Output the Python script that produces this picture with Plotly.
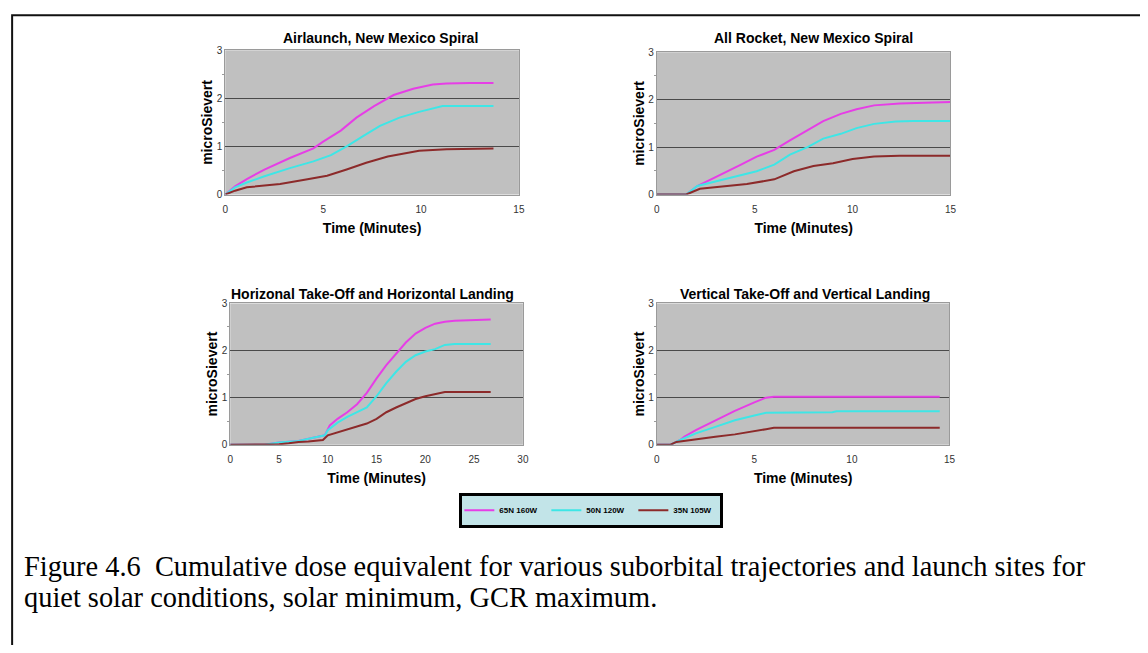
import plotly.graph_objects as go

# The page body has an 8px margin, so the figure is sized to fit the window exactly.
PAGE_OFF = 8
W, H = 1148 - 2 * PAGE_OFF, 653 - 2 * PAGE_OFF

# ---------------- data ----------------
series_names = ["65N 160W", "50N 120W", "35N 105W"]
series_colors = ["#e63ee6", "#3ee6e6", "#8c2a2a"]

panel_titles = ["Airlaunch, New Mexico Spiral", "All Rocket, New Mexico Spiral",
                "Horizonal Take-Off and Horizontal Landing", "Vertical Take-Off and Vertical Landing"]
x_title = "Time (Minutes)"
y_title = "microSievert"

# Airlaunch
air_t_65 = [0, 0.5, 1.1, 2.0, 3.3, 4.5, 5.0, 5.9, 6.7, 7.6, 8.6, 9.6, 10.6, 11.3, 12.5, 13.7]
air_d_65 = [0, 0.17, 0.32, 0.52, 0.76, 0.96, 1.1, 1.33, 1.6, 1.84, 2.07, 2.2, 2.29, 2.31, 2.32, 2.32]
air_t_50 = [0, 0.5, 1.1, 2.0, 3.3, 4.5, 5.4, 6.2, 7.1, 7.9, 8.9, 9.9, 11.1, 13.7]
air_d_50 = [0, 0.15, 0.25, 0.38, 0.55, 0.69, 0.82, 1.0, 1.23, 1.43, 1.6, 1.72, 1.84, 1.84]
air_t_35 = [0, 0.5, 1.1, 2.0, 2.8, 4.2, 5.2, 6.2, 7.2, 8.3, 9.3, 9.9, 11.3, 13.7]
air_d_35 = [0, 0.08, 0.15, 0.18, 0.22, 0.32, 0.39, 0.52, 0.66, 0.79, 0.87, 0.91, 0.94, 0.96]

# All Rocket
rkt_t_65 = [0, 1.5, 2.07, 3.1, 4.3, 5.1, 6.0, 6.8, 7.7, 8.5, 9.4, 10.2, 11.1, 12.4, 15]
rkt_d_65 = [0, 0, 0.18, 0.38, 0.63, 0.8, 0.94, 1.14, 1.35, 1.55, 1.7, 1.8, 1.88, 1.92, 1.95]
rkt_t_50 = [0, 1.5, 2.07, 3.1, 4.3, 5.1, 6.0, 6.8, 7.7, 8.5, 9.4, 10.2, 11.1, 12.2, 13.1, 15]
rkt_d_50 = [0, 0, 0.18, 0.29, 0.42, 0.49, 0.63, 0.84, 1.0, 1.18, 1.28, 1.4, 1.49, 1.54, 1.55, 1.55]
rkt_t_35 = [0, 1.5, 2.2, 3.4, 4.6, 6.0, 7.0, 8.0, 9.0, 10.0, 11.1, 12.4, 15]
rkt_d_35 = [0, 0, 0.12, 0.17, 0.22, 0.32, 0.49, 0.6, 0.66, 0.75, 0.8, 0.82, 0.82]

# Horizontal take-off / landing
htl_t_65 = [0, 3.5, 5, 7, 8.5, 9.7, 10.2, 11, 12, 13, 14, 15, 16, 17, 18, 19, 20, 21, 22, 23, 25, 26.7]
htl_d_65 = [0, 0, 0.05, 0.08, 0.15, 0.2, 0.41, 0.55, 0.69, 0.86, 1.1, 1.41, 1.69, 1.93, 2.17, 2.36, 2.48, 2.57, 2.61, 2.63, 2.64, 2.66]
htl_t_50 = [0, 3.5, 5, 7, 8.5, 9.7, 10, 11, 12, 13, 14, 15, 16, 17, 18, 19, 20, 21, 22, 23, 26.7]
htl_d_50 = [0, 0, 0.05, 0.08, 0.15, 0.2, 0.31, 0.47, 0.59, 0.69, 0.79, 1.03, 1.31, 1.55, 1.76, 1.9, 1.98, 2.03, 2.12, 2.14, 2.14]
htl_t_35 = [0, 4, 5, 6, 7, 8, 9.5, 10, 11, 12, 13, 14, 15, 16, 17, 18, 19, 20, 21, 22, 23, 26.7]
htl_d_35 = [0, 0, 0.01, 0.03, 0.06, 0.07, 0.1, 0.2, 0.26, 0.33, 0.39, 0.45, 0.55, 0.69, 0.79, 0.88, 0.97, 1.03, 1.08, 1.12, 1.12, 1.12]

# Vertical take-off / landing
vtl_t_65 = [0, 0.7, 1.2, 1.4, 2, 3, 4, 5, 5.6, 6, 14.5]
vtl_d_65 = [0, 0, 0.1, 0.17, 0.31, 0.52, 0.72, 0.9, 1.0, 1.02, 1.02]
vtl_t_50 = [0, 0.7, 1.2, 2, 3, 4, 5, 5.6, 9, 9.2, 14.5]
vtl_d_50 = [0, 0, 0.1, 0.24, 0.38, 0.52, 0.62, 0.68, 0.69, 0.71, 0.71]
vtl_t_35 = [0, 0.7, 1, 2, 3, 4, 5, 5.6, 6, 14.5]
vtl_d_35 = [0, 0, 0.06, 0.12, 0.17, 0.22, 0.28, 0.33, 0.36, 0.36]

x_ranges = [[0, 15], [0, 15], [0, 30], [0, 15]]
y_range = [0, 3]

caption_lines = ["Figure 4.6  Cumulative dose equivalent for various suborbital trajectories and launch sites for",
                 "quiet solar conditions, solar minimum, GCR maximum."]

panels = [
    [(air_t_65, air_d_65), (air_t_50, air_d_50), (air_t_35, air_d_35)],
    [(rkt_t_65, rkt_d_65), (rkt_t_50, rkt_d_50), (rkt_t_35, rkt_d_35)],
    [(htl_t_65, htl_d_65), (htl_t_50, htl_d_50), (htl_t_35, htl_d_35)],
    [(vtl_t_65, vtl_d_65), (vtl_t_50, vtl_d_50), (vtl_t_35, vtl_d_35)],
]

# ---------------- layout helpers (page-pixel boxes of plot areas) ----------------
boxes = [(224, 520, 45, 192), (659, 955, 47, 192), (229, 524, 303, 447), (659, 954, 303, 447)]
title_pos = [(380, 32), (817, 32), (372, 293), (808, 293)]


def fx(p):
    return (p - PAGE_OFF) / W


def fy(p):
    return 1 - (p - PAGE_OFF) / H


fig = go.Figure()
layout = dict(
    width=W, height=H, margin=dict(l=0, r=0, t=0, b=0),
    paper_bgcolor="white", plot_bgcolor="#c0c0c0",
    font=dict(family="Liberation Sans, Arial, sans-serif", color="#000"),
    showlegend=True,
    legend=dict(orientation="h", x=fx(593), xanchor="center", y=fy(496), yanchor="top",
                bgcolor="#c2e4e8", bordercolor="#000", borderwidth=3,
                font=dict(size=8, family="Liberation Sans, Arial, sans-serif", color="#000", weight="bold"),
                itemwidth=30, entrywidth=42, tracegroupgap=0),
)
annotations = []
shapes = []

for i, (pdata, (x0, x1, y0, y1)) in enumerate(zip(panels, boxes)):
    ax = "" if i == 0 else str(i + 1)
    for j, (t, d) in enumerate(pdata):
        fig.add_trace(go.Scatter(
            x=t, y=d, mode="lines", name=series_names[j],
            line=dict(color=series_colors[j], width=2),
            xaxis="x" + ax, yaxis="y" + ax,
            legendgroup=series_names[j], showlegend=(i == 0),
        ))
    layout["xaxis" + ax] = dict(
        domain=[fx(x0), fx(x1)], anchor="y" + ax, range=x_ranges[i],
        dtick=5, tick0=0, showgrid=False, zeroline=False,
        showline=True, linecolor="#9a9a9a", linewidth=1, mirror=True,
        ticks="", ticklabelstandoff=5, tickfont=dict(size=10, color="#333"),
        title=dict(text=x_title, font=dict(size=14, weight="bold"), standoff=9),
    )
    layout["yaxis" + ax] = dict(
        domain=[fy(y1), fy(y0)], anchor="x" + ax, range=y_range,
        dtick=1, tick0=0, showgrid=True, gridcolor="#4a4a4a", gridwidth=1,
        zeroline=False, showline=True, linecolor="#9a9a9a", linewidth=1, mirror=True,
        ticks="",
        minor=dict(dtick=0.5, ticks="outside", ticklen=2, tickcolor="#9a9a9a", showgrid=False),
        tickfont=dict(size=10, color="#333"),
        title=dict(text=y_title, font=dict(size=14, weight="bold"), standoff=0),
    )
    tx, ty = title_pos[i]
    annotations.append(dict(text="<b>" + panel_titles[i] + "</b>", x=fx(tx), y=fy(ty),
                            xref="paper", yref="paper", showarrow=False,
                            xanchor="center", yanchor="middle",
                            font=dict(size=14, color="#000")))

# caption
for k, line in enumerate(caption_lines):
    annotations.append(dict(text=line, x=fx(19), y=fy(571 + 32 * k), xref="paper", yref="paper",
                            showarrow=False, xanchor="left", yanchor="middle",
                            font=dict(size=28.4, family="Liberation Serif, Times New Roman, serif", color="#000")))

# outer frame (top and left edges visible, right/bottom run off the page)
shapes.append(dict(type="rect", xref="paper", yref="paper",
                   x0=0.001, x1=1.2, y0=0.998, y1=-0.2,
                   line=dict(color="#111", width=2), layer="below"))

layout["annotations"] = annotations
layout["shapes"] = shapes
fig.update_layout(**layout)
fig.write_html("out.html")
